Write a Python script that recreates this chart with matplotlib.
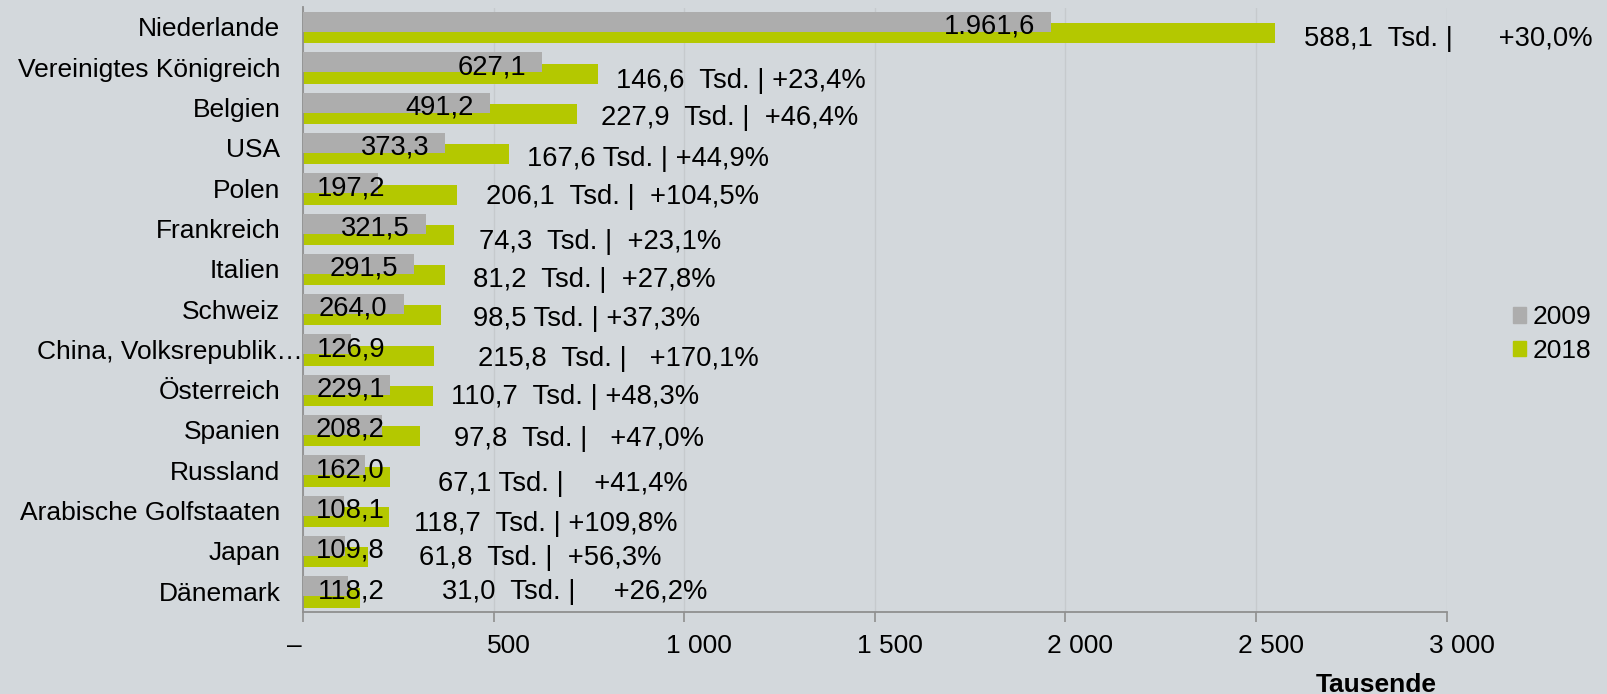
import matplotlib
matplotlib.use("Agg")
import matplotlib.pyplot as plt
from matplotlib.transforms import ScaledTranslation, blended_transform_factory
from matplotlib.patches import Patch

plt.rcParams["font.family"] = ["Liberation Sans", "DejaVu Sans"]

# data (Tausend Übernachtungen)
countries = [
    "Niederlande", "Vereinigtes Königreich", "Belgien", "USA", "Polen",
    "Frankreich", "Italien", "Schweiz", "China, Volksrepublik…", "Österreich",
    "Spanien", "Russland", "Arabische Golfstaaten", "Japan", "Dänemark",
]
values_2009 = [1961.6, 627.1, 491.2, 373.3, 197.2, 321.5, 291.5, 264.0,
               126.9, 229.1, 208.2, 162.0, 108.1, 109.8, 118.2]
change_abs = [588.1, 146.6, 227.9, 167.6, 206.1, 74.3, 81.2, 98.5,
              215.8, 110.7, 97.8, 67.1, 118.7, 61.8, 31.0]
change_pct = [30.0, 23.4, 46.4, 44.9, 104.5, 23.1, 27.8, 37.3,
              170.1, 48.3, 47.0, 41.4, 109.8, 56.3, 26.2]
values_2018 = [a + b for a, b in zip(values_2009, change_abs)]

x_ticks = [0, 500, 1000, 1500, 2000, 2500, 3000]
x_tick_labels = ["–", "500", "1 000", "1 500", "2 000", "2 500", "3 000"]

# manual placement of the change notes (pixels right of / below the green bar)
note_gap_px = [29, 18, 23.5, 18, 29, 25, 28, 32, 44, 18, 34.6, 47.5, 24.7, 50.8, 82]
note_dy_px = [3, 4.5, 1.7, 1.8, 0, 4, 2.3, 0.4, 0, -2, 0, 4.6, 4.7, -2, -8]
spaces_a = [2, 2, 2, 1, 2, 2, 2, 1, 2, 2, 2, 1, 2, 2, 2]
spaces_b = [6, 1, 2, 1, 2, 2, 2, 1, 3, 1, 3, 4, 1, 2, 5]

BG = "#D3D8DC"
GREY = "#ADADAD"
GREEN = "#B4C800"
AXIS = "#8F8F8F"
FS = 19          # category labels, ticks, legend
FS_NOTE = 19.7   # bar labels


def base(fs):
    # px from digit centre down to the baseline
    return 0.358 * fs * 100 / 72


def de(v):
    s = f"{v:,.1f}"
    return s.replace(",", "X").replace(".", ",").replace("X", ".")


fig = plt.figure(figsize=(16.08, 6.94), dpi=100)
fig.patch.set_facecolor(BG)
W, H = 1608, 694
ax_l, ax_r, ax_t, ax_b = 303, 1446.6, 7.5, 612
ax = fig.add_axes([ax_l / W, 1 - ax_b / H, (ax_r - ax_l) / W, (ax_b - ax_t) / H])
ax.set_facecolor(BG)

ppu = (ax_r - ax_l) / 3000.0  # px per data unit


def off(dx, dy):
    return ScaledTranslation(dx / 100, -dy / 100, fig.dpi_scale_trans)


n = len(countries)
pos = list(range(n))
h = 0.496
y_grey = [p - 0.139 for p in pos]
y_green = [p + 0.141 for p in pos]

ax.barh(y_green, values_2018, height=h, color=GREEN, zorder=2, label="2018")
ax.barh(y_grey, values_2009, height=h, color=GREY, zorder=3, label="2009")

ax.set_xlim(0, 3000)
ax.set_ylim(n - 0.5, -0.5)

# value labels on the grey bars
for v, y in zip(values_2009, y_grey):
    xr = max(v - 16 / ppu, (385 - ax_l) / ppu)
    ax.text(xr, y, de(v), ha="right", va="baseline", fontsize=FS_NOTE, zorder=4,
            transform=ax.transData + off(0, 2 + base(FS_NOTE)))

# change notes next to the green bars
for i in range(n):
    s = f"{de(change_abs[i])}{' ' * spaces_a[i]}Tsd. |{' ' * spaces_b[i]}+{de(change_pct[i])}%"
    ax.text(values_2018[i], y_green[i], s, ha="left", va="baseline", fontsize=FS_NOTE,
            transform=ax.transData + off(note_gap_px[i], note_dy_px[i] + base(FS_NOTE)))

# category labels
ylab_tr = blended_transform_factory(ax.transAxes, ax.transData)
for i, name in enumerate(countries):
    pad = 0 if name.endswith("…") else 22.5
    ax.text(0, pos[i], name, ha="right", va="baseline", fontsize=FS,
            transform=ylab_tr + off(-pad, -0.6 + base(FS)))

# x tick labels (accounting style, shifted right of the tick)
xlab_tr = blended_transform_factory(ax.transData, ax.transAxes)
for xv, lab in zip(x_ticks, x_tick_labels):
    dx = -9 if lab == "–" else 15
    ax.text(xv, 0, lab, ha="center", va="baseline", fontsize=FS,
            transform=xlab_tr + off(dx, 31.5 + base(FS)))

ax.set_xticks(x_ticks)
ax.set_yticks([])
ax.tick_params(axis="x", direction="out", length=7, width=1.2, color=AXIS,
               labelbottom=False)
ax.xaxis.grid(True, color="#C6CACD", lw=1)
ax.set_axisbelow(True)
for side in ["top", "right"]:
    ax.spines[side].set_visible(False)
for side in ["left", "bottom"]:
    ax.spines[side].set_color(AXIS)
    ax.spines[side].set_linewidth(1.3)

fig.text(1376 / W, 1 - (682.4 + base(FS)) / H, "Tausende", ha="center", va="baseline",
         fontsize=FS, fontweight="bold")

handles = [Patch(color=GREY, label="2009"), Patch(color=GREEN, label="2018")]
fig.legend(handles=handles, loc="center left", bbox_to_anchor=(1513 / W, 1 - 334 / H),
           frameon=False, fontsize=FS, handlelength=0.5, handleheight=0.5,
           handletextpad=0.25, labelspacing=0.35, borderpad=0, borderaxespad=0)

fig.savefig("out.png", dpi=100, facecolor=BG)
